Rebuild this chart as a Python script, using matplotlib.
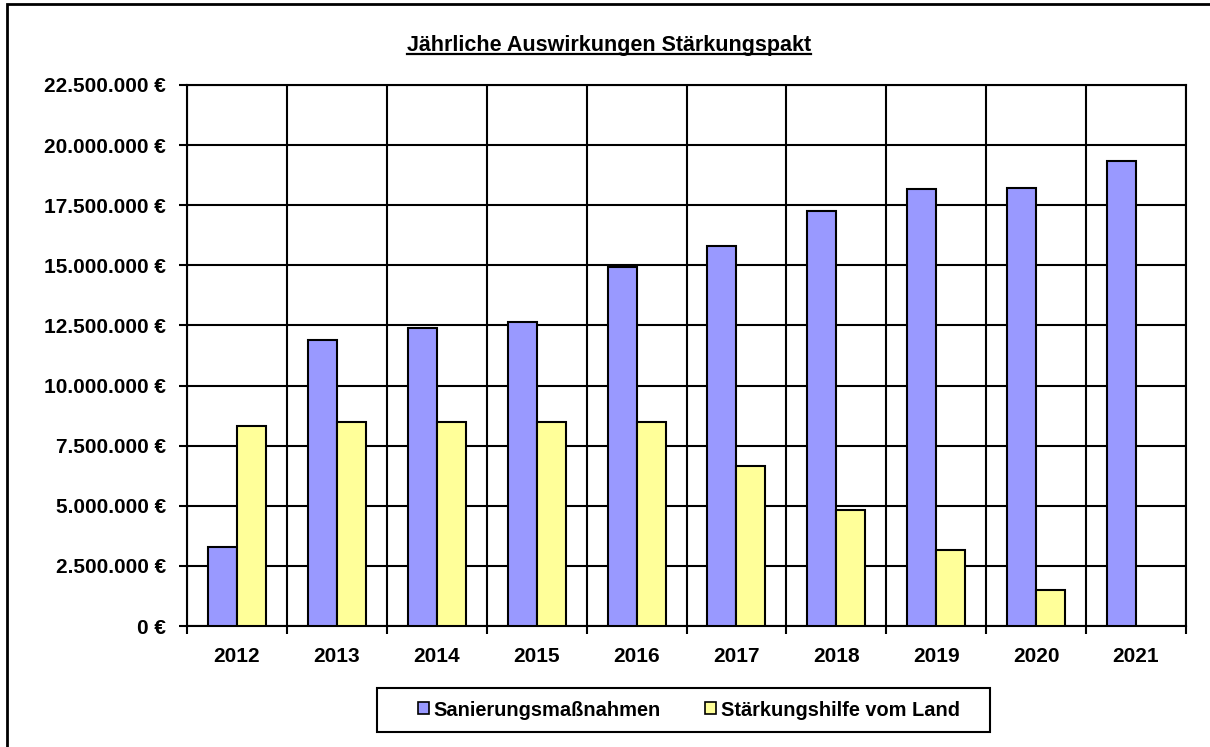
import matplotlib.pyplot as plt
import numpy as np
from matplotlib.patches import Patch, Rectangle
from matplotlib.lines import Line2D

# Werte in Euro
jahre = ['2012', '2013', '2014', '2015', '2016', '2017', '2018', '2019', '2020', '2021']
sanierung = [3270000, 11900000, 12390000, 12650000, 14920000,
             15820000, 17250000, 18170000, 18230000, 19330000]
staerkung = [8330000, 8490000, 8490000, 8490000, 8490000,
             6650000, 4830000, 3150000, 1490000, np.nan]
y_ticks = [0, 2500000, 5000000, 7500000, 10000000, 12500000,
           15000000, 17500000, 20000000, 22500000]

plt.rcParams['font.family'] = ['Liberation Sans', 'DejaVu Sans']
plt.rcParams['font.weight'] = 'bold'

W, H = 1210, 747
fig = plt.figure(figsize=(12.1, 7.47), dpi=100)
ax = fig.add_axes([187 / W, 1 - 626 / H, (1186 - 187) / W, (626 - 85) / H])

x = np.arange(len(jahre))
breite = 0.29
blau = '#9999FF'
gelb = '#FFFF99'

ax.bar(x - breite / 2, sanierung, breite, color=blau, edgecolor='black', linewidth=1.5, zorder=3)
ax.bar(x + breite / 2, staerkung, breite, color=gelb, edgecolor='black', linewidth=1.5, zorder=3)

ax.set_xlim(-0.5, len(jahre) - 0.5)
ax.set_ylim(0, 22500000)

# Achsen und Gitter
ax.set_yticks(y_ticks)
ax.set_yticklabels([f'{v:,.0f}'.replace(',', '.') + ' €' for v in y_ticks], fontsize=15)
ax.set_xticks(x)
ax.set_xticklabels(jahre, fontsize=15)
ax.set_xticks(np.arange(-0.5, len(jahre)), minor=True)
ax.tick_params(axis='x', which='major', length=0, pad=15)
ax.tick_params(axis='x', which='minor', length=6, width=1.5, direction='out')
ax.tick_params(axis='y', length=6, width=1.5, pad=9)
ax.grid(axis='y', color='black', linewidth=1.5, zorder=0)
ax.grid(axis='x', which='minor', color='black', linewidth=1.5, zorder=0)
for s in ax.spines.values():
    s.set_linewidth(1.5)
    s.set_color('black')
ax.set_axisbelow(True)

# Titel (unterstrichen)
titel = fig.text(609 / W, 1 - 45 / H, 'Jährliche Auswirkungen Stärkungspakt',
                 ha='center', va='center', fontsize=15.5, fontweight='bold')
fig.canvas.draw()
bb = titel.get_window_extent().transformed(fig.transFigure.inverted())
fig.add_artist(Line2D([bb.x0, bb.x1], [bb.y0 + 0.002, bb.y0 + 0.002],
                      color='black', linewidth=1.6, transform=fig.transFigure))

# Legende
handles = [Patch(facecolor=blau, edgecolor='black', linewidth=1.2, label='Sanierungsmaßnahmen'),
           Patch(facecolor=gelb, edgecolor='black', linewidth=1.2, label='Stärkungshilfe vom Land')]
fig.legend(handles=handles, loc='center', bbox_to_anchor=(689 / W, 1 - 710 / H),
           ncol=2, fontsize=14.4, frameon=False, handlelength=0.55, handleheight=0.55,
           handletextpad=0.25, columnspacing=2.2, borderaxespad=0)
fig.add_artist(Rectangle((377 / W, 1 - 732 / H), (990 - 377) / W, (732 - 688) / H,
                         fill=False, edgecolor='black', linewidth=1.5, transform=fig.transFigure))

# Rahmen um das Diagramm
fig.add_artist(Rectangle((7 / W, -0.1), 1.2, 1 - 4 / H + 0.1, fill=False,
                         edgecolor='black', linewidth=2, transform=fig.transFigure))

fig.savefig('out.png', dpi=100)
